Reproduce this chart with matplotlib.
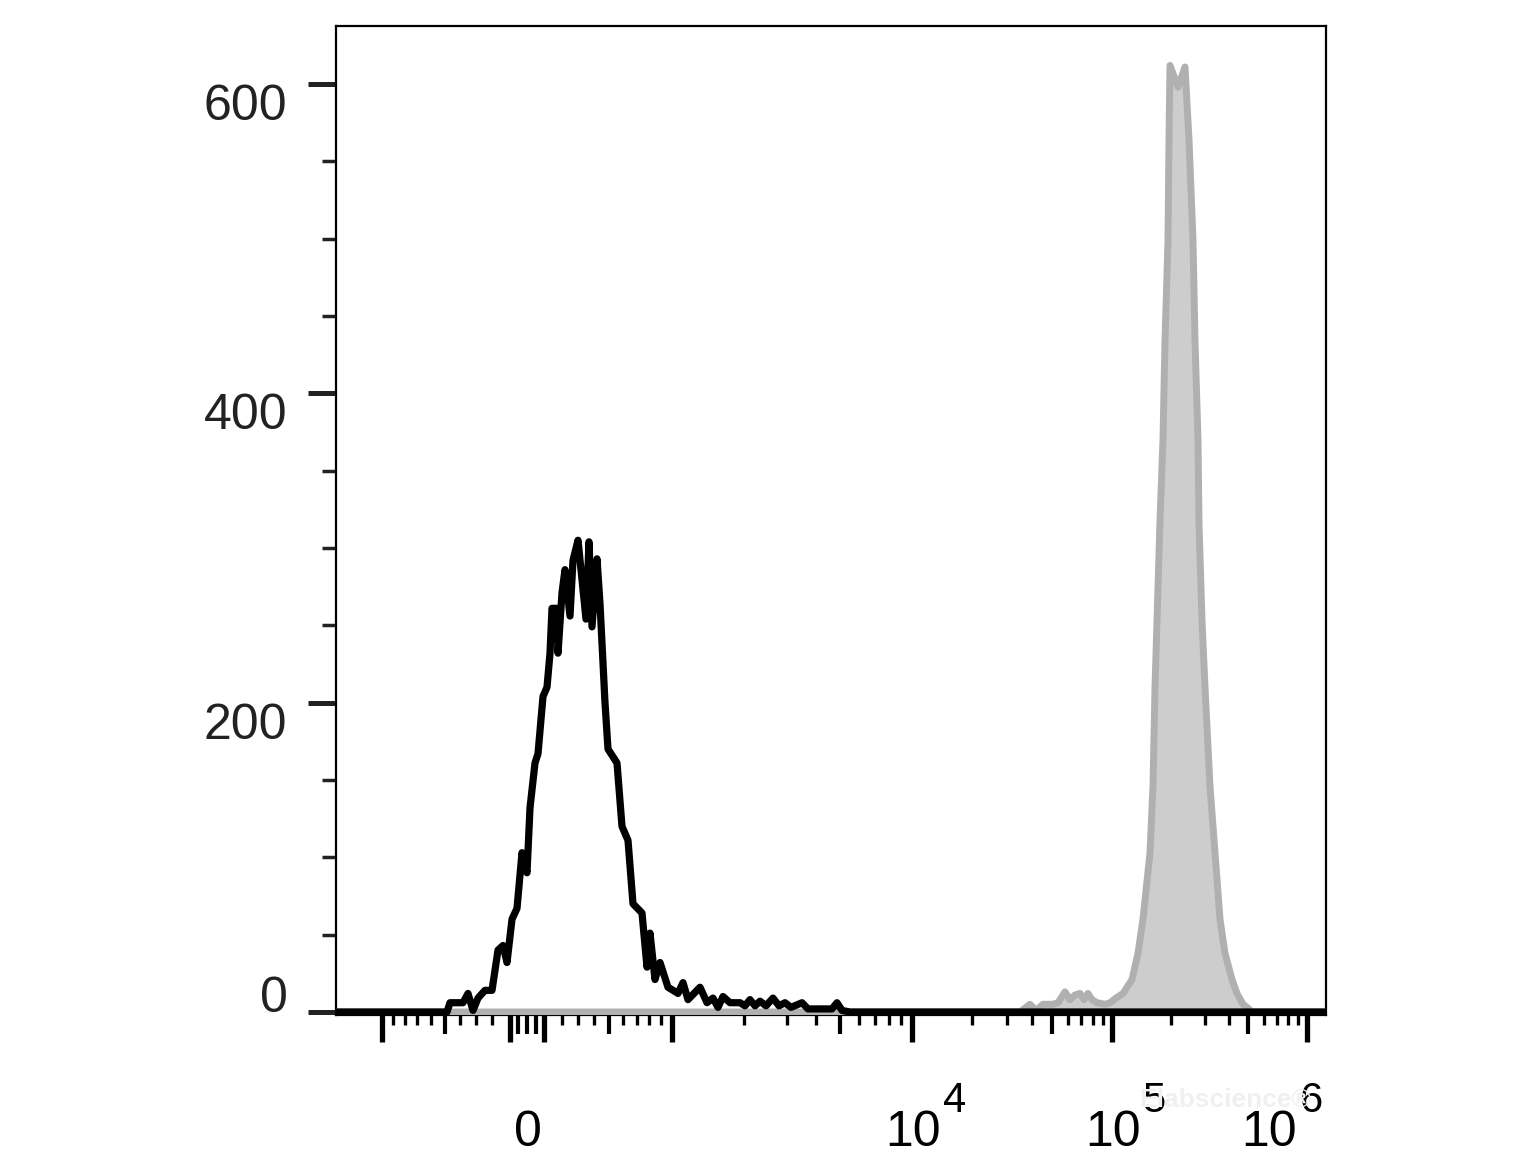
import numpy as np
import matplotlib
matplotlib.use("Agg")
import matplotlib.pyplot as plt
from matplotlib import transforms

plt.rcParams['font.family'] = ['Liberation Sans', 'DejaVu Sans']

# unstained control histogram (display channel, event count)
ctrl_channel = [0, 111, 114, 127, 132, 137, 142, 149, 156, 162,
                167, 171, 176, 181, 186, 191, 194, 199, 202, 207,
                211, 214, 216, 221, 222, 226, 229, 234, 237, 242,
                250, 253, 256, 261, 264, 269, 272, 281, 286, 292,
                297, 306, 311, 314, 319, 324, 332, 342, 347, 352,
                364, 371, 377, 382, 387, 394, 404, 409, 414, 419,
                424, 430, 437, 443, 449, 455, 466, 472, 496, 501,
                506, 514, 990]
ctrl_count = [0, 0, 6, 6, 12, 1, 9, 14, 14, 40,
              43, 32, 60, 67, 103, 90, 132, 161, 167, 204,
              210, 232, 261, 261, 232, 271, 286, 256, 292, 305,
              254, 304, 249, 293, 264, 200, 170, 161, 120, 111,
              70, 64, 29, 51, 21, 32, 16, 12, 19, 8,
              16, 6, 9, 3, 10, 6, 6, 4, 8, 4,
              7, 4, 9, 4, 6, 3, 6, 2, 2, 6,
              1, 0, 0]

# stained sample histogram
stain_channel = [0, 684, 694, 700, 707, 717, 722, 729, 734, 739,
                 744, 748, 752, 756, 761, 769, 774, 780, 787, 796,
                 802, 807, 814, 817, 819, 821, 824, 827, 829, 832,
                 833, 834, 842, 849, 853, 857, 859, 862, 863, 866,
                 869, 874, 879, 884, 889, 896, 901, 907, 911, 916,
                 990]
stain_count = [0, 0, 5, 1, 5, 5, 6, 13, 8, 11,
               12, 8, 12, 8, 6, 5, 6, 9, 12, 21,
               38, 60, 103, 146, 210, 253, 318, 370, 434, 499,
               564, 612, 598, 611, 564, 499, 434, 370, 316, 253,
               210, 146, 103, 60, 38, 21, 12, 5, 3, 0,
               0]

y_major = [0, 200, 400, 600]
y_minor = [50, 100, 150, 250, 300, 350, 450, 500, 550]

x_major_vals = [-1000, -100, 100, 1e3, 1e4, 1e5, 1e6]
x_mid_vals = [-500, -50, 0, 50, 500, 5e3, 5e4, 5e5]
x_minor_vals = [-900, -800, -700, -600, -400, -300, -200,
                200, 300, 400, 600, 700, 800, 900,
                2e3, 3e3, 4e3, 6e3, 7e3, 8e3, 9e3,
                2e4, 3e4, 4e4, 6e4, 7e4, 8e4, 9e4,
                2e5, 3e5, 4e5, 6e5, 7e5, 8e5, 9e5]

x_label_vals = [0, 1e4, 1e5, 1e6]
x_label_exp = ['', '4', '5', '6']


def to_channel(v):
    # biexponential-like display: asinh near zero, log above 10^3
    v = np.asarray(v, dtype=float)
    lin = 191 + 145 * np.arcsinh(v / 770) / np.arcsinh(1000 / 770)
    logpart = np.interp(np.log10(np.maximum(v, 1000)), [3, 4, 5, 6], [336, 576, 776, 971])
    return np.where(v < 1000, lin, logpart)


fig = plt.figure(figsize=(15.38, 11.54), dpi=100)
ax = fig.add_axes([336 / 1538, 139 / 1154, 990 / 1538, 989 / 1154])

# stained sample: grey filled
ax.fill_between(stain_channel, stain_count, color='#cdcdcd', lw=0, zorder=2)
ax.plot(stain_channel, stain_count, color='#b0b0b0', lw=5, solid_joinstyle='round', zorder=3)
# control: black outline
ax.plot(ctrl_channel, ctrl_count, color='black', lw=5.2, solid_joinstyle='round', zorder=4)

ax.set_xlim(0, 990)
ax.set_ylim(-1.94, 637.5)

for s in ax.spines.values():
    s.set_linewidth(1.6)
    s.set_color('black')

# y ticks
ax.set_yticks(y_major)
ax.set_yticks(y_minor, minor=True)
ax.tick_params(axis='y', which='major', direction='out', length=20, width=3.6, color='#222222', labelleft=False)
ax.tick_params(axis='y', which='minor', direction='out', length=10, width=2.5, color='#222222')

# x ticks
ax.set_xticks(to_channel(x_major_vals))
ax.set_xticks(to_channel(x_minor_vals), minor=True)
ax.tick_params(axis='x', which='major', direction='out', length=19.5, width=3.8, color='black', labelbottom=False)
ax.tick_params(axis='x', which='minor', direction='out', length=7.5, width=2.4, color='black')

sec = ax.secondary_xaxis('bottom')
sec.set_xticks(to_channel(x_mid_vals))
sec.tick_params(axis='x', which='major', direction='out', length=13.5, width=3.0, color='black', labelbottom=False)
sec.tick_params(axis='x', which='minor', length=0)
sec.spines['bottom'].set_visible(False)

# y labels: top aligned to tick, zero sits on its tick
ytr = transforms.blended_transform_factory(ax.transAxes, ax.transData)
for v in y_major:
    off = transforms.ScaledTranslation(-35 / 72, 0, fig.dpi_scale_trans)
    ax.text(0, v, str(v), transform=ytr + off, ha='right',
            va='baseline' if v == 0 else 'top', fontsize=36, color='#222222')

# x labels
xtr = transforms.blended_transform_factory(ax.transData, ax.transAxes)
pos = to_channel(x_label_vals)
for p, e in zip(pos, x_label_exp):
    shift = -27 if e == '6' else 0.5
    base = transforms.ScaledTranslation(shift / 72, -94.5 / 72, fig.dpi_scale_trans)
    ax.text(p, 0, '0' if e == '' else '10', transform=xtr + base, ha='center',
            va='baseline', fontsize=36, color='black')
    if e:
        sup = transforms.ScaledTranslation((shift + 30) / 72, -70 / 72, fig.dpi_scale_trans)
        ax.text(p, 0, e, transform=xtr + sup, ha='center', va='baseline',
                fontsize=30, color='black')

# faint watermark
fig.text(1225 / 1538, 1 - 1100 / 1154, 'Elabscience\u00ae', ha='center', va='center',
         fontsize=19, fontweight='bold', color='#f0f0f0', zorder=0)

fig.savefig('out.png', dpi=100)
